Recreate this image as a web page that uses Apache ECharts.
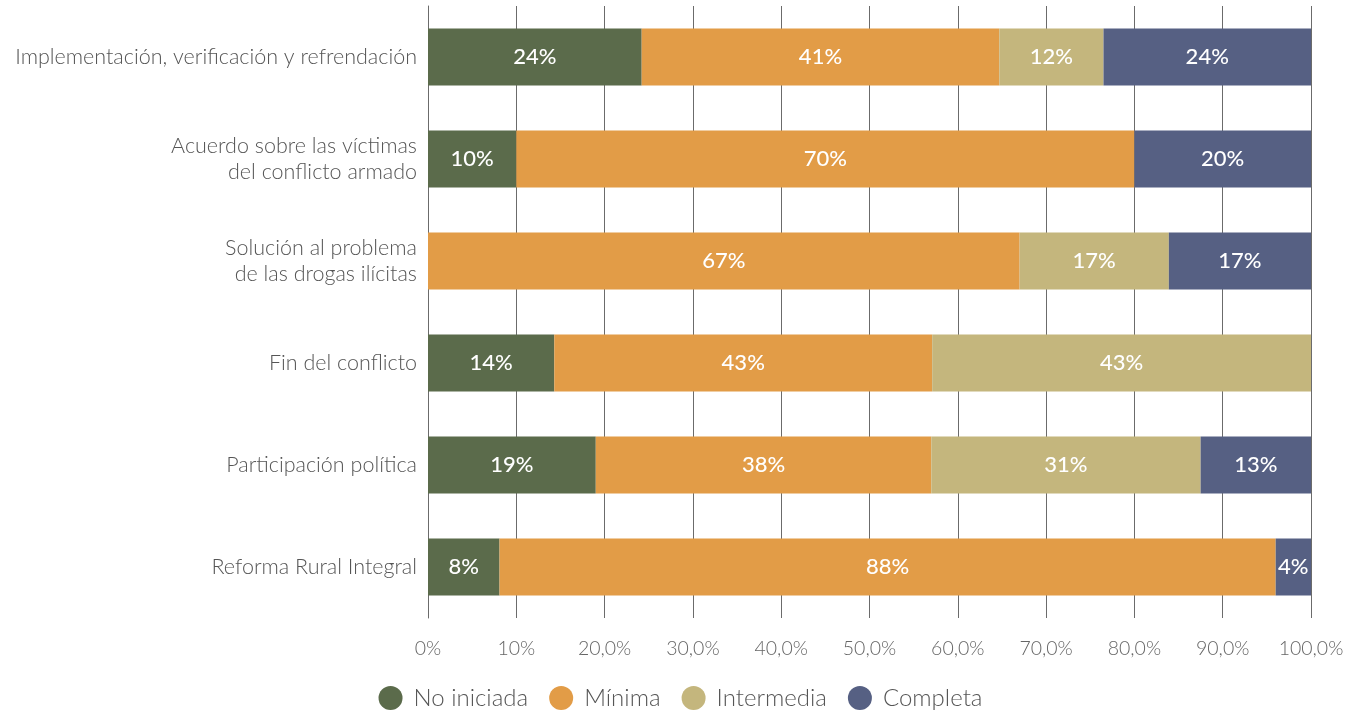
<!DOCTYPE html>
<html>
<head>
<meta charset="utf-8">
<script src="https://cdn.jsdelivr.net/npm/echarts@6/dist/echarts.min.js"></script>
<style>
html,body{margin:0;padding:0;background:#fff;}
#chart{width:1361px;height:710px;}
</style>
</head>
<body>
<div id="chart"></div>
<script>
const categories = [
  "Implementación, verificación y refrendación",
  "Acuerdo sobre las víctimas\ndel conflicto armado",
  "Solución al problema\nde las drogas ilícitas",
  "Fin del conflicto",
  "Participación política",
  "Reforma Rural Integral"
];
const seriesNames = ["No iniciada", "Mínima", "Intermedia", "Completa"];
// segment widths (share of each row, %)
const noIniciada = [24.2, 10, 0, 14.3, 19, 8.1];
const minima     = [40.5, 70, 67, 42.8, 38, 87.9];
const intermedia = [11.8, 0, 16.9, 42.9, 30.5, 0];
const completa   = [23.5, 20, 16.1, 0, 12.5, 4];
// labels printed on the segments
const noIniciadaLbl = ["24%", "10%", "", "14%", "19%", "8%"];
const minimaLbl     = ["41%", "70%", "67%", "43%", "38%", "88%"];
const intermediaLbl = ["12%", "", "17%", "43%", "31%", ""];
const completaLbl   = ["24%", "20%", "17%", "", "13%", "4%"];
const xTickLabels = ["0%", "10%", "20,0%", "30,0%", "40,0%", "50,0%", "60,0%", "70,0%", "80,0%", "90,0%", "100,0%"];
const colors = ["#5b6b4b", "#e29c47", "#c4b67d", "#566083"];

const values = [noIniciada, minima, intermedia, completa];
const labels = [noIniciadaLbl, minimaLbl, intermediaLbl, completaLbl];

const chart = echarts.init(document.getElementById('chart'), null, {renderer: 'canvas'});
chart.setOption({
  animation: false,
  color: colors,
  grid: {left: 428, right: 50, top: 6, bottom: 92, containLabel: false},
  legend: {
    bottom: 0,
    left: 'center',
    padding: 0,
    itemWidth: 24,
    itemHeight: 24,
    itemGap: 21,
    icon: 'circle',
    textStyle: {fontFamily: 'Lato', fontSize: 24, color: '#555', fontWeight: 300, padding: [0, 0, 0, 6]},
    data: seriesNames
  },
  xAxis: {
    type: 'value',
    min: 0, max: 100, interval: 10,
    axisLine: {show: false},
    axisTick: {show: false},
    splitLine: {show: true, lineStyle: {color: '#6b6b6b', width: 1}},
    axisLabel: {
      margin: 21,
      fontFamily: 'Lato', fontSize: 19.5, color: '#666', fontWeight: 300,
      formatter: function (v) { return xTickLabels[Math.round(v / 10)]; }
    }
  },
  yAxis: {
    type: 'category',
    inverse: true,
    data: categories,
    axisLine: {show: true, lineStyle: {color: '#6b6b6b'}},
    axisTick: {show: false},
    axisLabel: {
      margin: 11,
      fontFamily: 'Lato', fontSize: 21.5, color: '#555', fontWeight: 300, lineHeight: 26, align: 'right'
    }
  },
  series: seriesNames.map(function (name, i) {
    return {
      name: name,
      type: 'bar',
      stack: 'total',
      barWidth: 57,
      data: values[i],
      label: {
        show: true,
        position: 'inside',
        color: '#fff',
        fontFamily: 'Lato',
        fontSize: 22,
        fontWeight: 500,
        formatter: function (p) { return labels[i][p.dataIndex]; }
      }
    };
  })
});
</script>
</body>
</html>
